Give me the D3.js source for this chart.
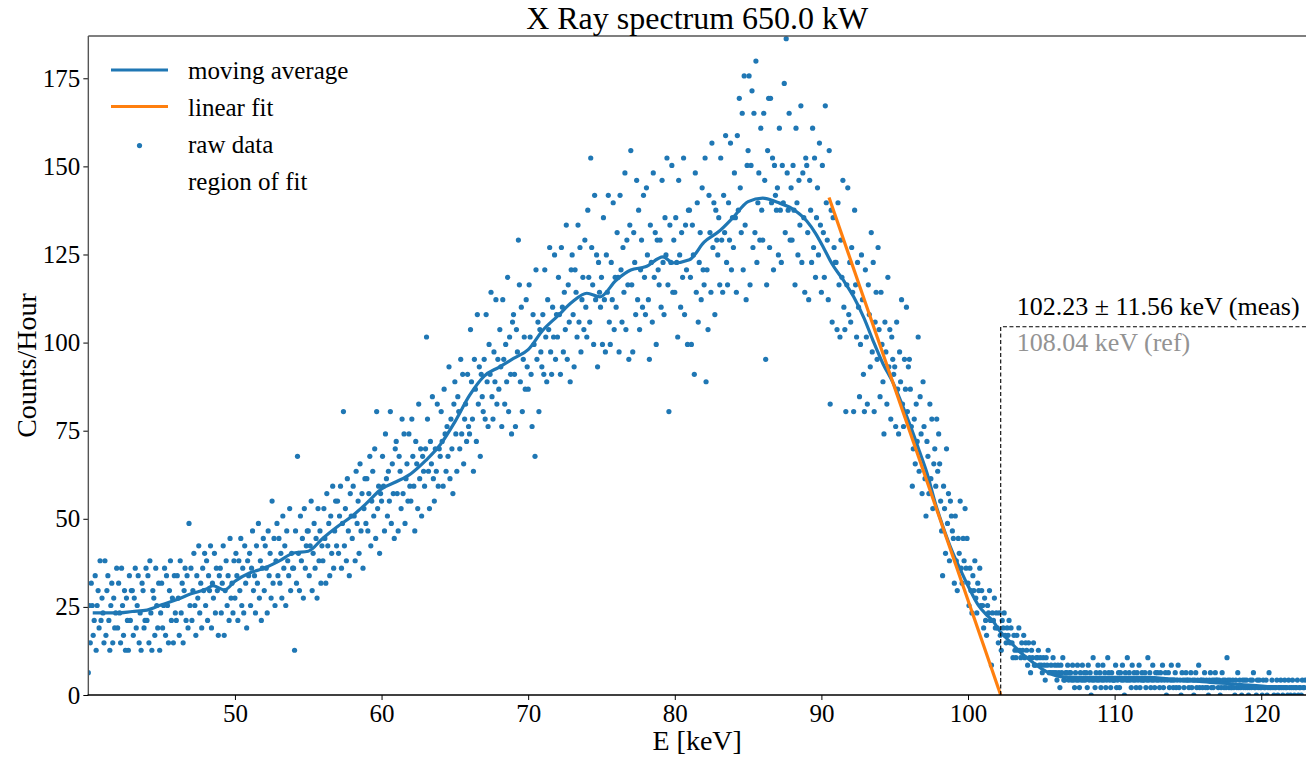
<!DOCTYPE html>
<html><head><meta charset="utf-8">
<script src="https://cdn.jsdelivr.net/npm/d3@7"></script>
<style>
body{margin:0;background:#fff}
svg text{font-family:"Liberation Serif","Times New Roman",serif;fill:#000}
</style></head>
<body><svg id="chart" width="1306" height="760"></svg>
<script>
// ---------------- data ----------------
const titleText = "X Ray spectrum 650.0 kW";
const xLabel = "E [keV]";
const yLabel = "Counts/Hour";
const xTicks = [50, 60, 70, 80, 90, 100, 110, 120];
const yTicks = [0, 25, 50, 75, 100, 125, 150, 175];
const legendLabels = ["moving average", "linear fit", "raw data", "region of fit"];
const measText = "102.23 \u00b1 11.56 keV (meas)";
const refText = "108.04 keV (ref)";

// raw spectrum: counts per channel, 15 channels per keV starting at 40 keV
const startKeV = 40;
const channelsPerKeV = 15;
const liveTimeHours = 0.4725;
const rawCounts = [
 [3,12,7,15,12,8,10,16,6,12,14,9,18,10,13],          // 40
 [11,7,18,8,14,16,10,6,12,15,7,13,9,11,17],
 [9,15,11,7,17,12,8,14,6,13,10,6,16,10,14],
 [14,8,13,17,9,12,16,7,11,6,15,14,9,10,17],
 [10,16,7,18,11,6,14,13,8,17,12,9,15,6,11],
 [15,9,12,17,8,16,12,7,14,18,10,13,7,16,11],         // 45
 [10,16,13,8,18,11,15,7,14,17,10,16,9,23,12],
 [17,10,14,19,12,8,16,13,20,11,15,9,17,14,19],
 [12,18,10,16,14,20,9,15,13,19,11,17,14,8,16],
 [17,11,15,20,8,14,18,12,16,10,21,13,15,11,18],
 [13,19,16,10,18,14,21,12,17,11,20,15,9,18,16],      // 50
 [19,12,17,22,14,16,11,20,15,23,13,18,10,17,21],
 [14,20,17,11,22,16,19,13,26,15,21,12,18,23,16],
 [21,15,19,13,24,17,20,12,22,18,16,25,14,19,17],
 [17,6,22,15,32,19,14,24,18,21,13,25,17,20,22],
 [22,16,20,26,14,19,23,17,21,13,25,18,22,15,20],     // 55
 [18,25,21,15,27,20,23,16,24,19,28,17,22,26,20],
 [26,19,24,28,17,23,38,20,25,18,29,22,16,27,24],
 [21,28,24,18,30,23,26,19,31,22,27,17,25,29,23],
 [29,22,27,32,20,26,30,24,33,21,38,25,28,19,27],
 [26,32,28,22,35,29,24,30,26,38,23,31,27,21,33],     // 60
 [34,27,22,32,30,25,37,27,35,23,29,31,26,35,28],
 [26,37,32,28,22,34,31,25,39,29,33,24,32,30,28],
 [33,48,37,30,25,34,31,40,29,26,33,30,39,28,33],
 [32,38,34,28,41,35,30,36,32,44,29,37,33,27,39],
 [42,35,30,40,38,33,45,35,43,31,37,39,34,43,36],     // 65
 [35,49,42,37,30,45,41,34,51,39,44,32,43,40,38],
 [45,37,51,42,36,47,43,54,40,37,46,42,53,39,45],
 [41,49,44,36,53,45,39,47,42,56,38,48,43,35,50],
 [51,43,36,49,46,61,55,42,52,38,45,48,41,53,44],
 [41,55,48,43,36,51,47,32,57,45,50,38,49,46,44],     // 70
 [51,43,57,48,42,53,49,60,46,43,52,48,59,45,51],
 [48,56,51,43,60,52,46,54,49,63,45,55,50,42,57],
 [59,51,44,57,54,48,63,50,60,46,53,56,49,61,52],
 [48,65,56,50,72,60,55,47,67,53,59,44,58,54,52],
 [56,47,64,53,46,59,54,67,50,47,58,53,66,49,56],     // 75
 [52,62,56,46,67,57,50,60,54,70,49,61,55,45,63],
 [73,55,46,62,58,51,69,53,65,49,57,61,52,67,56],
 [51,68,59,53,45,63,58,50,70,56,62,47,61,57,55],
 [61,52,69,58,51,64,59,72,55,38,63,58,71,54,61],
 [54,64,58,48,69,59,52,62,56,72,51,63,57,47,65],     // 80
 [65,56,47,63,59,43,70,54,66,50,58,62,53,68,57],
 [55,72,42,57,49,67,62,54,74,60,66,51,65,61,59],
 [64,55,72,61,54,67,62,75,58,55,66,61,74,57,64],
 [60,70,64,54,75,65,80,68,62,78,57,83,63,53,71],
 [73,83,55,71,81,60,78,62,85,58,66,70,61,76,65],     // 85
 [61,78,69,45,55,73,80,60,80,66,72,57,71,67,65],
 [68,59,76,65,58,71,66,82,62,88,70,65,78,61,68],
 [61,71,65,55,76,66,59,69,63,79,58,70,64,54,72],
 [71,62,53,69,65,58,76,60,72,56,64,68,59,74,63],
 [54,71,62,56,79,66,61,53,73,39,65,50,64,60,58],     // 90
 [58,49,66,55,48,61,56,69,52,49,38,55,68,51,58],
 [50,60,54,38,65,55,48,58,52,40,47,59,53,43,38],
 [57,48,39,55,51,44,62,46,58,38,50,54,45,60,49],
 [40,54,47,42,35,50,46,39,56,44,49,37,48,45,43],
 [44,36,50,41,35,46,42,53,39,36,45,41,52,38,44],     // 95
 [45,41,36,28,33,37,31,39,34,48,30,40,35,27,42],
 [36,29,24,34,32,27,39,29,37,25,31,33,28,37,30],
 [35,31,26,22,16,28,25,19,33,23,27,18,26,24,22],
 [21,15,24,18,14,21,19,26,17,15,21,18,25,17,21],
 [15,12,17,14,11,16,14,18,13,11,15,14,17,12,14],     // 100
 [12,9,13,10,8,12,11,14,10,4,11,10,13,9,11],
 [9,7,11,8,6,10,9,11,8,7,9,8,10,7,9],
 [7,5,8,6,5,8,6,9,6,5,7,6,8,5,7],
 [6,4,7,5,3,6,5,7,4,4,5,5,6,4,5],
 [4,3,5,4,2,5,4,6,3,3,4,3,5,3,4],                    // 105
 [3,2,4,3,1,4,3,5,2,2,3,3,4,2,3],
 [3,2,4,2,1,3,2,4,2,1,3,2,4,2,3],
 [2,3,1,4,2,3,0,2,5,2,1,3,2,4,2],
 [3,1,2,4,2,3,1,2,5,3,2,1,3,2,2],
 [2,4,1,2,3,1,3,2,4,2,0,3,2,5,2],                    // 110
 [3,2,1,4,2,3,2,1,3,2,4,1,2,3,2],
 [2,3,1,2,5,2,3,1,2,4,2,1,3,2,3],
 [2,1,3,2,4,1,2,3,0,2,3,1,2,4,2],
 [1,2,3,1,2,4,1,2,0,3,2,1,2,3,2],
 [2,1,2,3,1,2,0,2,3,1,2,4,1,2,2],                    // 115
 [1,2,3,1,2,1,0,2,3,1,2,1,2,3,2],
 [2,1,2,0,1,3,2,1,2,1,5,2,1,2,1],
 [1,2,1,0,2,1,3,1,2,1,0,2,1,2,1],
 [2,1,0,1,2,1,2,3,1,1,0,2,1,2,1],
 [1,0,2,1,1,2,0,1,3,1,1,2,1,0,1],                    // 120
 [1,2,0,1,1,2,1,0,1,2,1,1,0,2,1],
 [0,1,2,1,0,1,1,2,0,1,1,0,2,1,1],
 [2]                                                  // 123
];

// moving average (counts/hour)
const maEnergy = [40.3,41,42,43,44,45,46,47,48,48.5,49.3,50,51,52,53,54,55,56,57,58,59,60,61,62,63,64,65,66,67,68,69,70,71,72,73,74,74.9,76,77,78,79.2,79.9,81,82,83,84,85,86,87,88,89,89.6,90.2,90.7,91.5,92.2,92.9,93.5,94.2,94.9,95.5,96.1,96.7,97.2,97.8,98.3,98.9,99.4,100,100.7,101.2,101.7,102.2,102.9,103.6,104.2,105,106.3,107.5,110,112.2,114,116.5,118,120.8,122.9];
const maCounts = [23.3,23.3,23.3,23.7,24.1,25.6,27.0,28.7,30.0,31.0,29.8,32.3,34.6,36.0,38.0,40.3,40.8,44.5,47.8,50.8,54.5,58.5,60.5,62.8,66.5,71.0,77.5,85.0,90.5,93.0,95.5,98.0,103.5,107.5,111.5,114.0,113.0,117.7,120.6,121.5,124.3,122.6,123.5,128.5,131.5,135.6,140.0,141.0,139.8,138.0,134.5,131.0,126.5,122.5,117.7,113.0,107.0,100.8,94.0,88.5,82.5,76.0,69.0,63.0,54.0,47.7,41.0,36.3,31.0,25.5,23.0,21.0,18.0,15.0,12.0,10.0,7.5,5.2,5.0,5.0,5.0,4.5,3.6,3.2,2.3,2.0];

// linear fit over region of fit
const fitEnergy = [90.52, 102.23];
const fitCounts = [141.2, 0];
const cutoffEnergy = 102.23;
const cutoffBoxTop = 104.5;

// ---------------- drawing ----------------
const FONT = '"Liberation Serif","Times New Roman",serif';
const blue = "#1f77b4", orange = "#ff7f0e";
const svg = d3.select("#chart");
const L = 88.33, R = 1306.1, T = 36, B = 695;
const x = d3.scaleLinear().domain([40, 123.06]).range([L, R]);
const y = d3.scaleLinear().domain([0, 187]).range([B, T]);

svg.append("defs").append("clipPath").attr("id","clip")
  .append("rect").attr("x",L).attr("y",T).attr("width",R-L+2).attr("height",B-T);

const raw = [];
rawCounts.forEach((row, r) => row.forEach((c, j) => {
  raw.push({e: startKeV + r + j / channelsPerKeV, v: c / liveTimeHours});
}));

const plot = svg.append("g").attr("clip-path","url(#clip)");
plot.selectAll("circle.raw").data(raw).join("circle")
  .attr("class","raw").attr("cx", d => x(d.e)).attr("cy", d => y(d.v))
  .attr("r", 2.6).attr("fill", blue);

const ma = maEnergy.map((e,i) => [e, maCounts[i]]);
plot.append("path").datum(ma)
  .attr("d", d3.line().x(d => x(d[0])).y(d => y(d[1])).curve(d3.curveMonotoneX))
  .attr("fill","none").attr("stroke",blue).attr("stroke-width",3.2)
  .attr("stroke-linejoin","round");

const fit = fitEnergy.map((e,i) => [e, fitCounts[i]]);
plot.append("path").datum(fit)
  .attr("d", d3.line().x(d => x(d[0])).y(d => y(d[1])))
  .attr("fill","none").attr("stroke",orange).attr("stroke-width",3.2);

// region-of-fit dashed box
svg.append("path")
  .attr("d", `M${x(cutoffEnergy)},${y(0)}V${y(cutoffBoxTop)}H${R+2}`)
  .attr("fill","none").attr("stroke","#000").attr("stroke-width",1.1)
  .attr("stroke-dasharray","4,2.5");

function txt(sel, size) {
  return sel.style("font-family", FONT).style("font-size", size + "px");
}
txt(svg.append("text").attr("x", x(cutoffEnergy)+16).attr("y", 315), 26).text(measText);
txt(svg.append("text").attr("x", x(cutoffEnergy)+16).attr("y", 351), 26)
  .style("fill","#939393").text(refText);

// axes
const fmt = d3.format("d");
const gx = svg.append("g").attr("transform",`translate(0,${B})`)
  .call(d3.axisBottom(x).tickValues(xTicks).tickSize(5).tickPadding(4).tickFormat(fmt));
const gy = svg.append("g").attr("transform",`translate(${L},0)`)
  .call(d3.axisLeft(y).tickValues(yTicks).tickSize(5).tickPadding(3).tickFormat(fmt));
[gx, gy].forEach(g => {
  g.attr("font-family", null).attr("font-size", null);
  g.select(".domain").remove();
  txt(g.selectAll("text"), 25).style("fill","#000");
  g.selectAll("line").attr("stroke","#000").attr("stroke-width",1);
});

// spines
svg.append("line").attr("x1",L).attr("x2",L).attr("y1",T).attr("y2",B)
  .attr("stroke","#555").attr("stroke-width",1.4);
svg.append("line").attr("x1",L).attr("x2",1306).attr("y1",T).attr("y2",T)
  .attr("stroke","#555").attr("stroke-width",1.4);
svg.append("line").attr("x1",L-0.7).attr("x2",1306).attr("y1",B).attr("y2",B)
  .attr("stroke","#000").attr("stroke-width",1.3);

// title and labels
txt(svg.append("text").attr("x",(L+R)/2).attr("y",29).attr("text-anchor","middle"), 32).text(titleText);
txt(svg.append("text").attr("x",(L+R)/2).attr("y",750).attr("text-anchor","middle"), 28).text(xLabel);
txt(svg.append("text").attr("transform","translate(36,365.5) rotate(-90)")
  .attr("text-anchor","middle"), 28).text(yLabel);

// legend
const lg = svg.append("g");
lg.append("line").attr("x1",111).attr("x2",168).attr("y1",70).attr("y2",70)
  .attr("stroke",blue).attr("stroke-width",3.2);
lg.append("line").attr("x1",111).attr("x2",168).attr("y1",106.5).attr("y2",106.5)
  .attr("stroke",orange).attr("stroke-width",3.2);
lg.append("circle").attr("cx",139.5).attr("cy",145.6).attr("r",2.6).attr("fill",blue);
const ly = [79, 116, 153, 189.5];
legendLabels.forEach((t,i) => txt(lg.append("text").attr("x",188).attr("y",ly[i]), 25).text(t));
</script></body></html>
